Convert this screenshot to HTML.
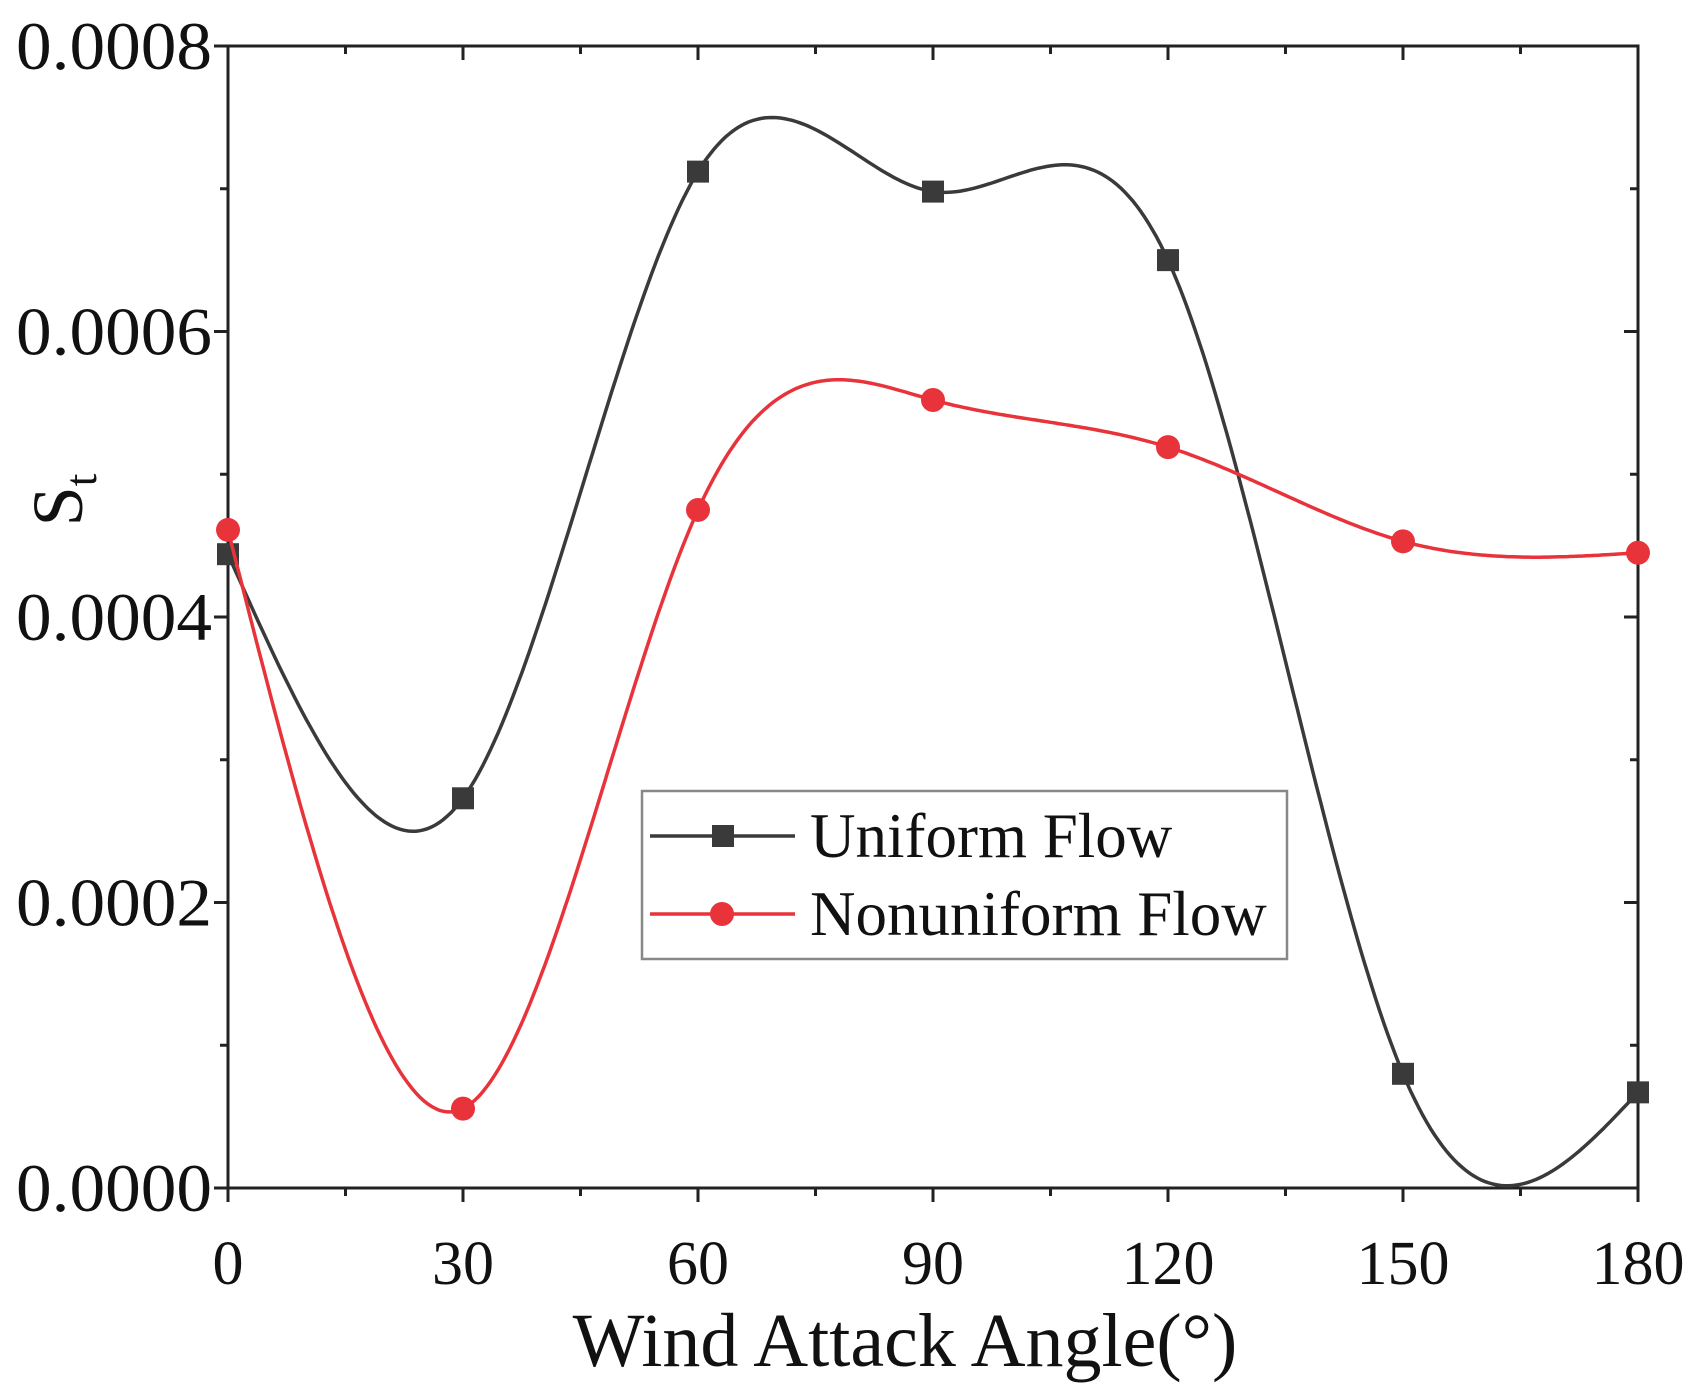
<!DOCTYPE html>
<html><head><meta charset="utf-8"><style>
html,body{margin:0;padding:0;background:#fff;}
svg{display:block;font-family:"Liberation Serif",serif;}
</style></head><body>
<svg id="chart" width="1702" height="1389" viewBox="0 0 1702 1389" xmlns="http://www.w3.org/2000/svg">
<g id="axes"></g>
<g id="series"></g>
<g id="legend">
<rect x="642" y="791" width="645" height="168" fill="#fff" stroke="#888" stroke-width="2.5"/>
<g>
<line x1="650" y1="836" x2="795" y2="836" stroke="#3a3a3a" stroke-width="3.5"/>
<rect x="712" y="825" width="22" height="22" fill="#3a3a3a"/>
<text x="810" y="857" font-size="63" fill="#111">Uniform Flow</text>
</g>
<g>
<line x1="650" y1="914" x2="795" y2="914" stroke="#e8333a" stroke-width="3.5"/>
<circle cx="722" cy="914" r="12" fill="#e8333a"/>
<text x="810" y="935" font-size="63" fill="#111">Nonuniform Flow</text>
</g>
</g>
<text x="905" y="1366" font-size="76" text-anchor="middle" fill="#111">Wind Attack Angle(°)</text>
<text transform="translate(82,500) rotate(-90)" font-size="72" text-anchor="middle" fill="#111">S<tspan font-size="46" dy="14">t</tspan></text>
</svg>
<script>
const categories = [0, 30, 60, 90, 120, 150, 180];
const uniformValues = [0.000444, 0.000273, 0.000712, 0.000698, 0.00065, 0.00008, 0.000067];
const nonuniformValues = [0.000461, 0.0000556, 0.000475, 0.000552, 0.000519, 0.000453, 0.000445];
const xTicks = [0, 30, 60, 90, 120, 150, 180];
const yTicks = [0, 0.0002, 0.0004, 0.0006, 0.0008];
const yTickLabels = ["0.0000", "0.0002", "0.0004", "0.0006", "0.0008"];

const NS = "http://www.w3.org/2000/svg";
const X0 = 228, X1 = 1638, Y0 = 1188, Y1 = 46;
function xs(v){ return X0 + (v - 0) / 180 * (X1 - X0); }
function ys(v){ return Y0 - v / 0.0008 * (Y0 - Y1); }
function mk(tag, attrs, parent){ const e = document.createElementNS(NS, tag); for (const k in attrs) e.setAttribute(k, attrs[k]); parent.appendChild(e); return e; }

const axes = document.getElementById('axes');
const frame = mk('rect', {x:X0, y:Y1, width:X1-X0, height:Y0-Y1, fill:'none', stroke:'#222', 'stroke-width':3}, axes);


for (let v = 0; v <= 180; v += 15) {
  const major = v % 30 === 0, x = xs(v), L = major ? 14 : 8;
  const t1 = mk('line', {x1:x, y1:Y0, x2:x, y2:Y0+L, stroke:'#222', 'stroke-width':3}, axes);
  
  
  const t2 = mk('line', {x1:x, y1:Y1, x2:x, y2:Y1+L, stroke:'#222', 'stroke-width':3}, axes);
  
  
}
xTicks.forEach(v => {
  const t = mk('text', {x:xs(v), y:1284, 'font-size':62, 'text-anchor':'middle', fill:'#111'}, axes);
  t.textContent = v;
  
  
});
for (let v = 0; v <= 0.0008 + 1e-9; v += 0.0001) {
  const major = Math.round(v / 0.0001) % 2 === 0, y = ys(v), L = major ? 14 : 8;
  const t1 = mk('line', {x1:X0-L, y1:y, x2:X0, y2:y, stroke:'#222', 'stroke-width':3}, axes);
  
  
  const t2 = mk('line', {x1:X1-L, y1:y, x2:X1, y2:y, stroke:'#222', 'stroke-width':3}, axes);
  
  
}
yTicks.forEach((v, i) => {
  const t = mk('text', {x:212, y:ys(v)+23, 'font-size':68, 'text-anchor':'end', fill:'#111', textLength:196, lengthAdjust:'spacingAndGlyphs'}, axes);
  t.textContent = yTickLabels[i];
  
  
});

function spline(xsArr, ysArr) {
  const n = xsArr.length, h = [], a = [], l = [1], mu = [0], z = [0], c = new Array(n).fill(0), b = [], d = [];
  for (let i = 0; i < n-1; i++) h.push(xsArr[i+1]-xsArr[i]);
  for (let i = 1; i < n-1; i++) a[i] = 3/h[i]*(ysArr[i+1]-ysArr[i]) - 3/h[i-1]*(ysArr[i]-ysArr[i-1]);
  for (let i = 1; i < n-1; i++) { l[i] = 2*(xsArr[i+1]-xsArr[i-1]) - h[i-1]*mu[i-1]; mu[i] = h[i]/l[i]; z[i] = (a[i]-h[i-1]*z[i-1])/l[i]; }
  for (let j = n-2; j >= 0; j--) { c[j] = (z[j]||0) - (mu[j]||0)*c[j+1]; b[j] = (ysArr[j+1]-ysArr[j])/h[j] - h[j]*(c[j+1]+2*c[j])/3; d[j] = (c[j+1]-c[j])/(3*h[j]); }
  return t => { let j = Math.min(n-2, Math.max(0, xsArr.findIndex((v,k)=>t>=v && t<=xsArr[k+1]))); const dx = t - xsArr[j]; return ysArr[j] + b[j]*dx + c[j]*dx*dx + d[j]*dx*dx*dx; };
}

const series = document.getElementById('series');
function drawSeries(vals, color, name, marker) {
  const f = spline(categories, vals);
  let d = '';
  for (let t = 0; t <= 180; t += 0.5) d += (t === 0 ? 'M' : 'L') + xs(t).toFixed(1) + ',' + ys(f(t)).toFixed(1);
  const p = mk('path', {d:d, fill:'none', stroke:color, 'stroke-width':3.5}, series);
  
  
  categories.forEach((c, i) => {
    let m;
    if (marker === 'square') m = mk('rect', {x:xs(c)-11, y:ys(vals[i])-11, width:22, height:22, fill:color}, series);
    else m = mk('circle', {cx:xs(c), cy:ys(vals[i]), r:12, fill:color}, series);
    
    
  });
}
drawSeries(uniformValues, '#3a3a3a', 'uniform-flow', 'square');
drawSeries(nonuniformValues, '#e8333a', 'nonuniform-flow', 'circle');
</script>
</body></html>
